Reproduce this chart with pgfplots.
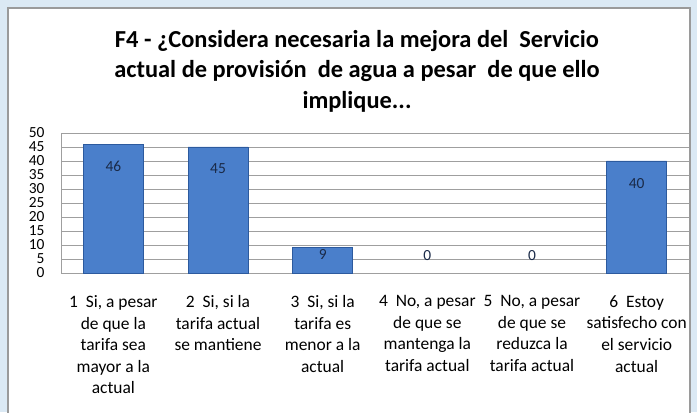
\documentclass[border=0pt]{standalone}
\usepackage{pgfplots}
\pgfplotsset{compat=1.18}
\usepackage{fontspec}
\setmainfont{Carlito}
\definecolor{bgblue}{HTML}{DBE9F4}
\definecolor{panelgray}{HTML}{9A9A9A}
\definecolor{barfill}{HTML}{4A7FCB}
\definecolor{bardark}{HTML}{2C5A9E}
\definecolor{valtext}{HTML}{1A2A48}
\begin{document}
\begin{tikzpicture}[x=1bp,y=1bp]
\useasboundingbox (0,0) rectangle (697,412);
\fill[bgblue] (0,0) rectangle (697,412);
\fill[white] (8,0) rectangle (690,404);
\draw[panelgray, line width=1.2bp] (8,-2) -- (8,404) -- (690,404) -- (690,-2);
\node[font=\bfseries\fontsize{24.5}{30.5}\selectfont, align=center] at (357,341)
  {F4 - ¿Considera necesaria la mejora del\ \ Servicio\\actual de provisión\ \ de agua a pesar\ \ de que ello\\implique...};
\begin{axis}[
  at={(61bp,279bp)}, anchor=north west,
  scale only axis, width=628bp, height=140bp,
  xmin=-0.5, xmax=5.5, ymin=0, ymax=50,
  ytick={0,5,...,50}, xtick={0,...,5},
  xticklabels={
    {1\ \ Si, a pesar\\de que la\\tarifa sea\\mayor a la\\actual},
    {2\ \ Si, si la\\tarifa actual\\se mantiene},
    {3\ \ Si, si la\\tarifa es\\menor a la\\actual},
    {4\ \ No, a pesar\\de que se\\mantenga la\\tarifa actual},
    {5\ \ No, a pesar\\de que se\\reduzca la\\tarifa actual},
    {6\ \ Estoy\\satisfecho con\\el servicio\\actual}},
  xticklabel style={font=\fontsize{17.5}{21.7}\selectfont, align=center, anchor=north, yshift=-19bp},
  yticklabel style={font=\fontsize{15.5}{15.5}\selectfont, xshift=-13bp},
  /pgf/number format/assume math mode=true,
  ymajorgrids, grid style={gray!75, line width=0.8bp},
  axis x line*=bottom, axis y line*=left,
  axis line style={gray!75, line width=0.8bp},
  major tick length=0,
  clip=false,
]
\addplot[ybar, bar shift=0pt, bar width=60bp, draw=bardark, line width=0.9bp, fill=barfill]
  coordinates {(0,46) (1,45) (2,9) (5,40)};
\addplot[draw=none, mark=none, nodes near coords, point meta=explicit symbolic,
  nodes near coords style={anchor=center, font=\fontsize{15.5}{15.5}\selectfont, text=valtext}]
  coordinates {(0,38.2)[46] (1,37.2)[45] (2,6.6)[9] (3,6.2)[0] (4,6.2)[0] (5,31.8)[40]};
\end{axis}
\end{tikzpicture}
\end{document}
